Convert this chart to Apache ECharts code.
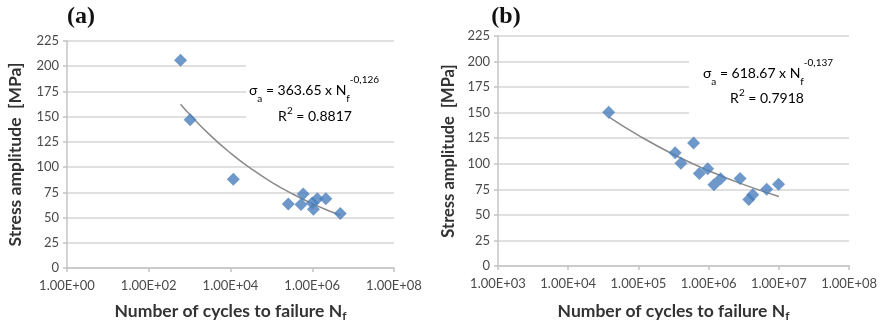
<!DOCTYPE html>
<html>
<head>
<meta charset="utf-8">
<script src="https://cdn.jsdelivr.net/npm/echarts@6/dist/echarts.min.js"></script>
<style>
html,body{margin:0;padding:0;background:#fff;}
#c{width:880px;height:327px;}
</style>
</head>
<body>
<div id="c"></div>
<script>
// ---- data (a) ----
const cyclesA = [600, 1030, 11700, 260000, 530000, 600000, 1000000, 1070000, 1330000, 2150000, 4850000];
const stressA = [206, 147, 88, 63.4, 63, 73.4, 64.4, 58.2, 68.6, 68.6, 54];
const trendCyclesA = [600, 1000, 3162, 10000, 31623, 100000, 316228, 1000000, 3162278, 4850000];
const trendStressA = [162.4, 152.3, 131.7, 113.9, 98.6, 85.2, 73.8, 63.8, 55.2, 52.4];
const tickLabelsA = ['1.00E+00', '1.00E+02', '1.00E+04', '1.00E+06', '1.00E+08'];

// ---- data (b) ----
const cyclesB = [37700, 333000, 403000, 610000, 736000, 968000, 1190000, 1480000, 2800000, 3730000, 4250000, 6700000, 9900000];
const stressB = [150.4, 110.7, 100.6, 120.3, 90.5, 95.2, 79.5, 85.3, 85.5, 65, 69.8, 75.2, 80];
const trendCyclesB = [37700, 100000, 316228, 1000000, 3162278, 10000000];
const trendStressB = [145.9, 127.8, 109.1, 93.2, 79.6, 68.0];
const tickLabelsB = ['1.00E+03', '1.00E+04', '1.00E+05', '1.00E+06', '1.00E+07', '1.00E+08'];

const yTicks = [0, 25, 50, 75, 100, 125, 150, 175, 200, 225];

const FONT = 'Lato';
const pts = (xs, ys) => xs.map((x, i) => [Math.log10(x), ys[i]]);

function xAxis(gridIndex, min, max, interval, labels, gap) {
  return {
    gridIndex, type: 'value', min, max, interval,
    name: 'Number of cycles to failure N{s|f}',
    nameLocation: 'middle', nameGap: gap,
    nameTextStyle: {
      fontFamily: FONT, fontWeight: 'bold', fontSize: 17.5, color: '#333',
      rich: { s: { fontFamily: FONT, fontWeight: 'bold', fontSize: 12, color: '#333', padding: [10, 0, 0, 0] } }
    },
    axisLine: { show: true, lineStyle: { color: '#c4c4c4', width: 1.5 } },
    axisTick: { show: true, length: 4, lineStyle: { color: '#c4c4c4', width: 1.5 } },
    axisLabel: {
      margin: 11, fontFamily: FONT, fontSize: 13, color: '#4a4a4a',
      formatter: v => labels[Math.round((v - min) / interval)]
    },
    splitLine: { show: false }
  };
}
function yAxis(gridIndex, gap, size) {
  return {
    gridIndex, type: 'value', min: yTicks[0], max: yTicks[yTicks.length - 1], interval: 25,
    name: 'Stress amplitude  [MPa]',
    nameLocation: 'middle', nameGap: gap, nameRotate: 90,
    nameTextStyle: { fontFamily: FONT, fontWeight: 'bold', fontSize: size, color: '#333' },
    axisLine: { show: true, lineStyle: { color: '#c4c4c4', width: 1.5 } },
    axisTick: { show: true, length: 4, lineStyle: { color: '#c4c4c4', width: 1.5 } },
    axisLabel: { margin: 8, fontFamily: FONT, fontSize: 13, color: '#4a4a4a' },
    splitLine: { show: true, lineStyle: { color: '#d6d6d6', width: 1.5 } }
  };
}

const chart = echarts.init(document.getElementById('c'), null, { renderer: 'canvas' });
const eqRich = {
  m: { fontFamily: FONT, fontSize: 14, color: '#111' },
  sub: { fontFamily: FONT, fontSize: 10, color: '#111', padding: [18, 0, 0, 0] },
  sup: { fontFamily: FONT, fontSize: 10, color: '#111', padding: [0, 0, 20, 0] },
  sup2: { fontFamily: FONT, fontSize: 10, color: '#111', padding: [0, 0, 10, 0] }
};
function eqText(x, y, text) {
  return { type: 'text', x, y, z: 10, style: { text, rich: eqRich, align: 'center', verticalAlign: 'middle' } };
}

chart.setOption({
  animation: false,
  backgroundColor: '#fff',
  grid: [
    { left: 67, right: 486, top: 41, bottom: 55 },
    { left: 498, right: 20, top: 36, bottom: 55 }
  ],
  xAxis: [ xAxis(0, 0, 8, 2, tickLabelsA, 32), xAxis(1, 3, 8, 1, tickLabelsB, 34) ],
  yAxis: [ yAxis(0, 43, 17.5), yAxis(1, 41, 16.5) ],
  graphic: [
    { type: 'rect', z: 1, shape: { x: 246, y: 52, width: 148, height: 76 }, style: { fill: '#fff' } },
    { type: 'rect', z: 1, shape: { x: 689, y: 48, width: 171, height: 78 }, style: { fill: '#fff' } },
    eqText(314, 90, '{m|σ}{sub|a}{m| = 363.65 x N}{sub|f}{sup|-0,126}'),
    eqText(315, 116, '{m|R}{sup2|2}{m| = 0.8817}'),
    eqText(768, 73, '{m|σ}{sub|a}{m| = 618.67 x N}{sub|f}{sup|-0,137}'),
    eqText(767, 98, '{m|R}{sup2|2}{m| = 0.7918}'),
    { type: 'text', x: 81, y: 17, z: 10, style: { text: '(a)', font: 'bold 24px "Liberation Serif"', fill: '#111', align: 'center', verticalAlign: 'middle' } },
    { type: 'text', x: 506, y: 17, z: 10, style: { text: '(b)', font: 'bold 24px "Liberation Serif"', fill: '#111', align: 'center', verticalAlign: 'middle' } }
  ],
  series: [
    { type: 'line', xAxisIndex: 0, yAxisIndex: 0, data: pts(trendCyclesA, trendStressA), smooth: true, symbol: 'none', z: 3,
      lineStyle: { color: '#8a8a8a', width: 1.5 } },
    { type: 'scatter', xAxisIndex: 0, yAxisIndex: 0, data: pts(cyclesA, stressA), symbol: 'diamond', symbolSize: 13, z: 4,
      itemStyle: { color: '#4a7ebb' } },
    { type: 'line', xAxisIndex: 1, yAxisIndex: 1, data: pts(trendCyclesB, trendStressB), smooth: true, symbol: 'none', z: 3,
      lineStyle: { color: '#8a8a8a', width: 1.5 } },
    { type: 'scatter', xAxisIndex: 1, yAxisIndex: 1, data: pts(cyclesB, stressB), symbol: 'diamond', symbolSize: 13, z: 4,
      itemStyle: { color: '#4a7ebb' } }
  ]
});
</script>
</body>
</html>
